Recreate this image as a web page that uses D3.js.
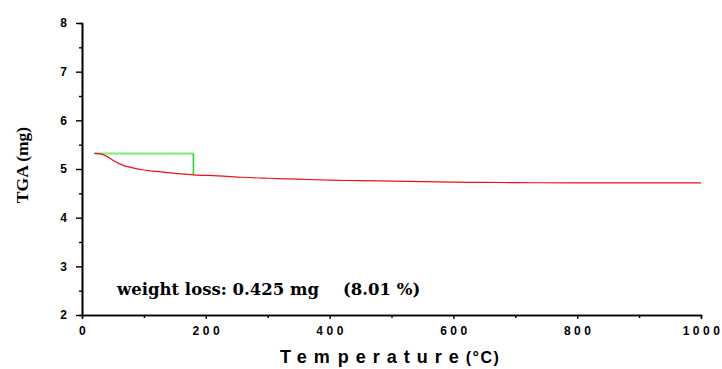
<!DOCTYPE html>
<html>
<head>
<meta charset="utf-8">
<script src="https://cdn.jsdelivr.net/npm/d3@7"></script>
<style>
  body { margin: 0; background: #fff; }
  svg text { fill: #000; }
</style>
</head>
<body>
<svg id="chart" width="722" height="369"></svg>
<script>
// TGA curve
const temps = [20, 30, 40, 50, 60, 70, 80, 100, 120, 150, 180, 220, 260, 300, 350, 400, 450, 500, 550, 600, 650, 700, 800, 900, 1000];
const tga   = [5.32, 5.31, 5.26, 5.18, 5.11, 5.06, 5.03, 4.98, 4.95, 4.91, 4.88, 4.86, 4.83, 4.81, 4.79, 4.77, 4.76, 4.75, 4.74, 4.73, 4.725, 4.72, 4.715, 4.715, 4.715];
// green marker: start level, end temperature
const markX = [20, 180];
const markY = [5.32, 4.88];
const xTicks = [0, 200, 400, 600, 800, 1000];
const yTicks = [2, 3, 4, 5, 6, 7, 8];
const noteA = 'weight loss: 0.425 mg';
const noteB = '(8.01 %)';

const svg = d3.select('#chart');
const x = d3.scaleLinear().domain([0, 1000]).range([82, 701]);
const y = d3.scaleLinear().domain([2, 8]).range([315, 23]);

// axes
const xAxis = d3.axisBottom(x).tickValues(xTicks).tickSize(4).tickSizeOuter(0).tickFormat(d3.format('d'));
const xMinor = d3.axisBottom(x).tickValues(d3.range(100, 1000, 200)).tickSize(3).tickFormat('');
const yAxis = d3.axisLeft(y).tickValues(yTicks).tickSize(6).tickSizeOuter(0).tickFormat(d3.format('d'));
const yMinor = d3.axisLeft(y).tickValues(d3.range(2.5, 8, 1)).tickSize(3).tickFormat('');

function style(g) {
  g.select('.domain').attr('stroke', '#000').attr('stroke-width', 1.6);
  g.selectAll('.tick line').attr('stroke', '#000').attr('stroke-width', 1.4);
  g.selectAll('text').attr('font-family', 'Liberation Sans, Arial, sans-serif')
    .attr('font-weight', 'bold').attr('font-size', 12);
}

svg.append('g').attr('transform', 'translate(0,315)').call(xMinor).call(style);
svg.append('g').attr('transform', 'translate(0,315)').call(xAxis).call(style)
  .call(g => g.selectAll('text').attr('dy', '1.1em').attr('letter-spacing', 3.5).attr('dx', 1.5));
svg.append('g').attr('transform', 'translate(82,0)').call(yMinor).call(style);
svg.append('g').attr('transform', 'translate(82,0)').call(yAxis).call(style)
  .call(g => g.selectAll('text').attr('x', -15));

// green marker
svg.append('path')
  .attr('d', d3.line()([[x(markX[0]), y(markY[0])], [x(markX[1]), y(markY[0])]]))
  .attr('fill', 'none').attr('stroke', '#77ee77').attr('stroke-width', 2);
svg.append('path')
  .attr('d', d3.line()([[x(markX[1]), y(markY[0])], [x(markX[1]), y(markY[1])]]))
  .attr('fill', 'none').attr('stroke', '#22dd22').attr('stroke-width', 1.6);

// curve
const line = d3.line().x((d, i) => x(temps[i])).y(d => y(d)).curve(d3.curveMonotoneX);
svg.append('path').datum(tga)
  .attr('d', line)
  .attr('fill', 'none').attr('stroke', '#ee1111').attr('stroke-width', 1.2);

// titles
svg.append('text')
  .attr('transform', 'translate(28,165) rotate(-90)')
  .attr('text-anchor', 'middle')
  .attr('font-family', 'Liberation Serif, Times New Roman, serif')
  .attr('font-weight', 'bold').attr('font-size', 17.5)
  .text('TGA (mg)');

// "Tem perature" in the original, but the gap is no wider than letter spacing
const xt = svg.append('text')
  .attr('x', 280).attr('y', 363)
  .attr('font-family', 'Liberation Sans, Arial, sans-serif')
  .attr('font-weight', 'bold').attr('font-size', 18).attr('letter-spacing', 7);
xt.append('tspan').text('Tem');
xt.append('tspan').attr('dx', 1).text('perature');
xt.append('tspan').attr('font-size', 16).attr('letter-spacing', 1.5).text('(°C)');

const nt = svg.append('g')
  .attr('font-family', 'DejaVu Serif, serif')
  .attr('font-weight', 'bold').attr('font-size', 16.5);
nt.append('text').attr('x', 117).attr('y', 295).text(noteA);
nt.append('text').attr('x', 343).attr('y', 295).text(noteB);
</script>
</body>
</html>
